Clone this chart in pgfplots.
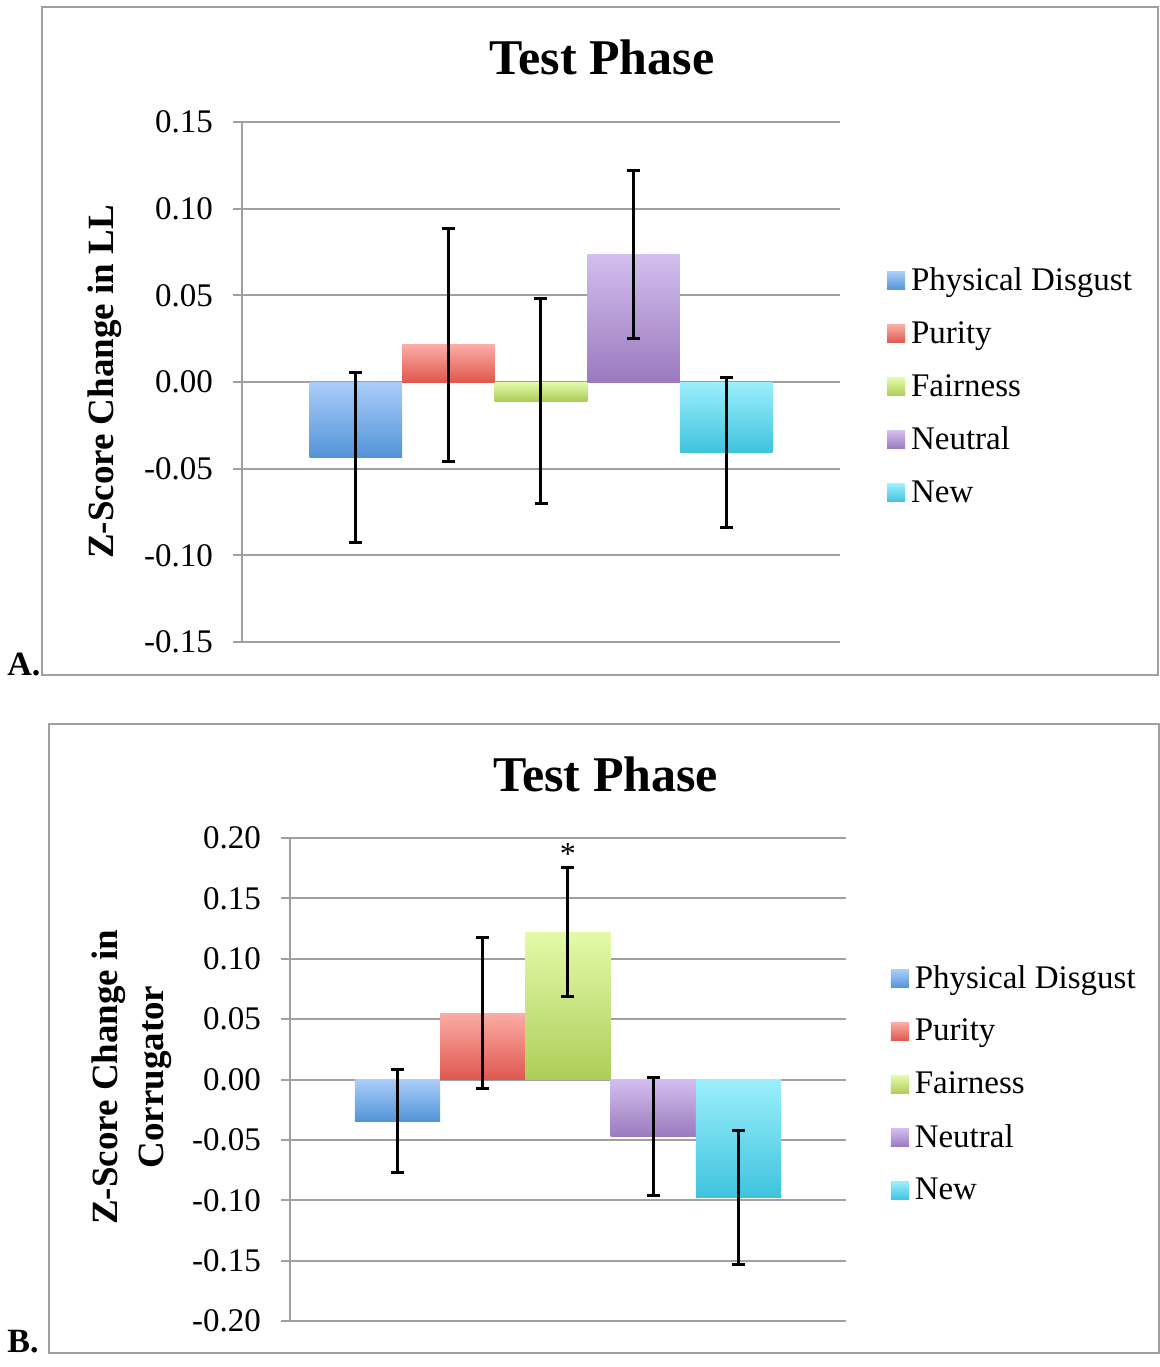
\documentclass[border=0pt]{standalone}
\usepackage{fontspec}
\setmainfont{Liberation Serif}
\usepackage{pgfplots}
\pgfplotsset{compat=1.18}
\definecolor{gridgray}{RGB}{160,160,160}
\definecolor{pdT}{RGB}{171,205,250}
\definecolor{pdB}{RGB}{83,148,216}
\definecolor{puT}{RGB}{252,172,166}
\definecolor{puB}{RGB}{222,88,78}
\definecolor{faT}{RGB}{228,250,170}
\definecolor{faB}{RGB}{172,206,88}
\definecolor{neT}{RGB}{211,190,238}
\definecolor{neB}{RGB}{155,122,191}
\definecolor{nwT}{RGB}{156,239,252}
\definecolor{nwB}{RGB}{62,195,222}
\pgfplotsset{
  panel/.style={
    scale only axis, anchor=south west,
    axis x line=none, axis y line*=left,
    axis line style={draw=gridgray, line width=1pt},
    ymajorgrids, grid style={draw=gridgray, line width=1pt},
    xtick=\empty,
    tick align=outside, major tick length=4.5pt,
    ytick style={draw=gridgray, line width=1pt},
    scaled y ticks=false,
    yticklabel style={font=\fontsize{16.5}{18}\selectfont, xshift=-6.5pt,
      /pgf/number format/fixed, /pgf/number format/fixed zerofill,
      /pgf/number format/precision=2, /pgf/number format/assume math mode=true},
    title style={font=\fontsize{25}{30}\selectfont\bfseries, anchor=center},
    legend style={draw=none, fill=none, anchor=north west,
      font=\fontsize{16.5}{18}\selectfont,
      nodes={minimum height=26.5pt, inner ysep=0pt, inner xsep=3pt}, row sep=0pt},
    legend cell align=left,
    legend image code/.code={\fill[#1] (0pt,-4.5pt) rectangle (9pt,4.5pt);},
  },
  eb/.style={ybar, bar shift=0pt, bar width=1, draw=none,
    error bars/y dir=both, error bars/y explicit,
    error bars/error bar style={black, line width=1.5pt},
    error bars/error mark options={black, rotate=90, mark size=3.25pt, line width=1.5pt}},
  pd/.style={eb, top color=pdT, bottom color=pdB},
  pu/.style={eb, top color=puT, bottom color=puB},
  fa/.style={eb, top color=faT, bottom color=faB},
  ne/.style={eb, top color=neT, bottom color=neB},
  nw/.style={eb, top color=nwT, bottom color=nwB},
}
\begin{document}
\begin{tikzpicture}
\useasboundingbox (0,0) rectangle (580pt,-683.5pt);
\fill[white] (0,0) rectangle (580pt,-683.5pt);
\draw[gridgray, line width=1pt] (21pt,-3.5pt) rectangle (579pt,-337.5pt);
\draw[gridgray, line width=1pt] (24.5pt,-362pt) rectangle (579.5pt,-676.5pt);
\node[anchor=base west, font=\fontsize{17}{17}\selectfont\bfseries, inner sep=0pt] at (3.5pt,-337.5pt) {A.};
\node[anchor=base west, font=\fontsize{17}{17}\selectfont\bfseries, inner sep=0pt] at (3.5pt,-676pt) {B.};

\begin{axis}[panel, at={(121pt,-321pt)}, width=299pt, height=260pt,
  xmin=-0.23, xmax=6.23, ymin=-0.15, ymax=0.15,
  ytick={-0.15,-0.10,-0.05,0,0.05,0.10,0.15},
  title={Test Phase}, title style={at={(axis description cs:0.602,1)}, yshift=26.5pt},
  ylabel={Z-Score Change in LL},
  every axis y label/.style={at={(axis description cs:-0.229,0.5)}, rotate=90, anchor=center,
    font=\fontsize{18.5}{23}\selectfont\bfseries},
  legend style={at={(axis description cs:1.068,0.754)}},
]
\addplot[pd] coordinates {(1,-0.0433) +- (0,0.0490)};
\addplot[pu] coordinates {(2,0.0216) +- (0,0.0672)};
\addplot[fa] coordinates {(3,-0.0110) +- (0,0.0591)};
\addplot[ne] coordinates {(4,0.0735) +- (0,0.0484)};
\addplot[nw] coordinates {(5,-0.0408) +- (0,0.0433)};
\legend{Physical Disgust,Purity,Fairness,Neutral,New}
\end{axis}

\begin{axis}[panel, at={(145pt,-660.5pt)}, width=278pt, height=241.5pt,
  xmin=-0.26, xmax=6.26, ymin=-0.2, ymax=0.2,
  ytick={-0.20,-0.15,-0.10,-0.05,0,0.05,0.10,0.15,0.20},
  title={Test Phase}, title style={at={(axis description cs:0.568,1)}, yshift=26pt},
  ylabel={Z-Score Change in\\Corrugator},
  every axis y label/.style={at={(axis description cs:-0.284,0.505)}, rotate=90, anchor=center,
    align=center, font=\fontsize{18.5}{23}\selectfont\bfseries},
  legend style={at={(axis description cs:1.069,0.773)}},
]
\addplot[pd] coordinates {(1,-0.0344) +- (0,0.0430)};
\addplot[pu] coordinates {(2,0.0550) +- (0,0.0625)};
\addplot[fa] coordinates {(3,0.1220) +- (0,0.0535)};
\addplot[ne] coordinates {(4,-0.0470) +- (0,0.0490)};
\addplot[nw] coordinates {(5,-0.0981) +- (0,0.0555)};
\node[font=\fontsize{16}{16}\selectfont] at (axis cs:3,0.187) {*};
\legend{Physical Disgust,Purity,Fairness,Neutral,New}
\end{axis}
\end{tikzpicture}
\end{document}
